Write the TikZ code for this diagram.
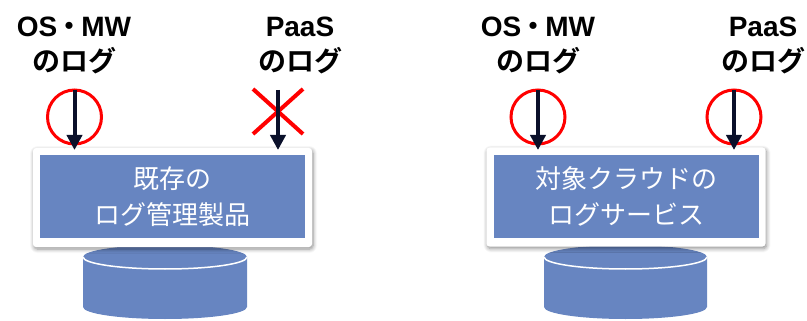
\documentclass[tikz,border=0pt]{standalone}
\usepackage{fontspec}
\newfontfamily\jp{Noto Sans CJK JP}
\newfontfamily\jpbold{Noto Sans CJK JP Bold}
\newfontfamily\lib{Liberation Sans}
\usetikzlibrary{arrows.meta,shadows.blur}
\definecolor{boxblue}{RGB}{103,133,193}
\definecolor{navy}{RGB}{10,16,42}
\definecolor{xred}{RGB}{255,0,0}
\tikzset{
  frame/.style={fill=white, rounded corners=3pt, minimum width=279pt, minimum height=99pt,
    blur shadow={shadow blur steps=6, shadow xshift=1pt, shadow yshift=-2pt, shadow opacity=45, shadow blur radius=4pt}},
  inner/.style={fill=boxblue, minimum width=265pt, minimum height=83pt, text=white,
    align=center, font=\jp\fontsize{26}{36}\selectfont},
  lbl/.style={align=center, text=black, inner sep=0pt, font=\fontsize{28}{35}\selectfont},
  okring/.style={draw=xred, line width=3pt, circle, minimum size=54pt, inner sep=0pt},
  logarrow/.style={draw=navy, line width=4pt, -{Triangle[width=15pt,length=15pt]}},
  cross/.style={draw=xred, line width=4pt},
}
\newcommand{\osmw}{{\lib\bfseries OS}{\jpbold\hspace{-2pt}・\hspace{-2pt}}{\lib\bfseries MW}\\{\jpbold のログ}}
\newcommand{\paas}{{\lib\bfseries PaaS}\\{\jpbold のログ}}
\begin{document}
\begin{tikzpicture}[x=1pt,y=-1pt]
\useasboundingbox (0,0) rectangle (807,321);
% cylinders
\fill[boxblue] (83,257) -- (83,307) arc[start angle=180,end angle=360,x radius=82pt,y radius=12pt] -- (247,257) -- cycle;
\fill[boxblue] (165,257) ellipse[x radius=82pt,y radius=12pt];
\draw[white, line width=1.5pt] (83,257) arc[start angle=180,end angle=360,x radius=82pt,y radius=12pt];
\fill[boxblue] (544,257) -- (544,307) arc[start angle=180,end angle=360,x radius=81.5pt,y radius=12pt] -- (707,257) -- cycle;
\fill[boxblue] (625.5,257) ellipse[x radius=81.5pt,y radius=12pt];
\draw[white, line width=1.5pt] (544,257) arc[start angle=180,end angle=360,x radius=81.5pt,y radius=12pt];
% frames
\node[frame] (frameL) at (172.5,197.5) {};
\node[inner] (boxL) at (172.5,196.5) {既存の\\ログ管理製品};
\node[frame] (frameR) at (626,197) {};
\node[inner] (boxR) at (626,196.5) {対象クラウドの\\ログサービス};
% labels
\node[lbl] (l1) at (74,45) {\osmw};
\node[lbl] (l2) at (300,45) {\paas};
\node[lbl] (l3) at (538,45) {\osmw};
\node[lbl] (l4) at (763,45) {\paas};
% rings and cross
\node[okring] (r1) at (74.5,117) {};
\node[okring] (r3) at (538,117) {};
\node[okring] (r4) at (734,117) {};
\draw[cross] (253,89) -- (303,134);
\draw[cross] (253,134) -- (303,89);
% arrows
\coordinate (s1) at (74.5,90);
\coordinate (e1) at (74.5,150);
\coordinate (s2) at (278,90);
\coordinate (e2) at (278,150);
\coordinate (s3) at (538,90);
\coordinate (e3) at (538,150);
\coordinate (s4) at (734,90);
\coordinate (e4) at (734,150);
\draw[logarrow] (s1) -- (e1);
\draw[logarrow] (s2) -- (e2);
\draw[logarrow] (s3) -- (e3);
\draw[logarrow] (s4) -- (e4);
\end{tikzpicture}
\end{document}
